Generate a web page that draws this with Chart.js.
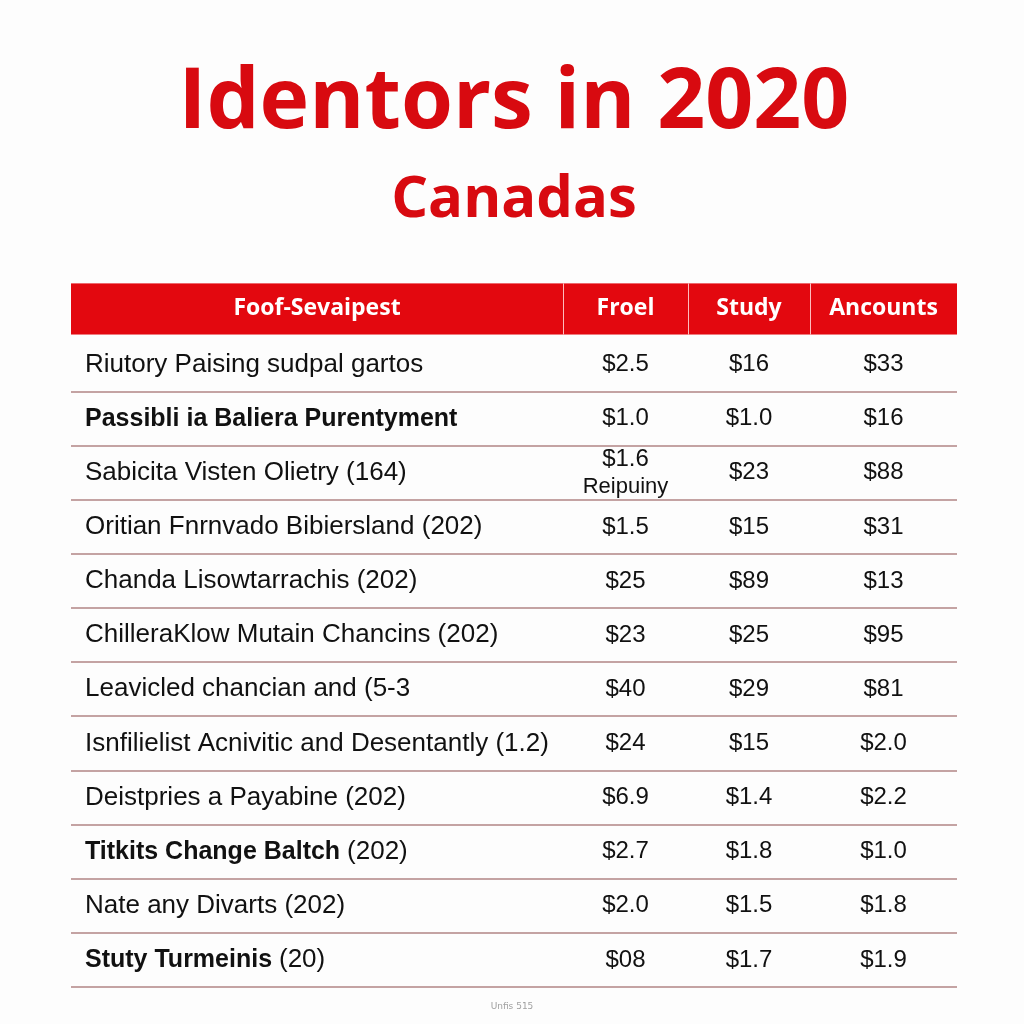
<!DOCTYPE html>
<html>
<head>
<meta charset="utf-8">
<script src="https://cdn.jsdelivr.net/npm/chart.js@4"></script>
<style>
  body { margin: 0; background: #fdfdfd; }
  #wrap { width: 1024px; height: 1024px; }
</style>
</head>
<body>
<div id="wrap"><canvas id="myChart" width="1024" height="1024"></canvas></div>
<script>
/* table data */
var columns = ['Foof-Sevaipest', 'Froel', 'Study', 'Ancounts'];
var rowNames = [
    'Riutory Paising sudpal gartos',
    'Passibli ia Baliera Purentyment',
    'Sabicita Visten Olietry (164)',
    'Oritian Fnrnvado Bibiersland (202)',
    'Chanda Lisowtarrachis (202)',
    'ChilleraKlow Mutain Chancins (202)',
    'Leavicled chancian and (5-3',
    'Isnfilielist Acnivitic and Desentantly (1.2)',
    'Deistpries a Payabine (202)',
    'Titkits Change Baltch (202)',
    'Nate any Divarts (202)',
    'Stuty Turmeinis (20)'
];
var froel = ['$2.5', '$1.0', '$1.6\nReipuiny', '$1.5', '$25', '$23', '$40', '$24', '$6.9', '$2.7', '$2.0', '$08'];
var study = ['$16', '$1.0', '$23', '$15', '$89', '$25', '$29', '$15', '$1.4', '$1.8', '$1.5', '$1.7'];
var ancounts = ['$33', '$16', '$88', '$31', '$13', '$95', '$81', '$2.0', '$2.2', '$1.0', '$1.8', '$1.9'];

// layout (table units along x, 0..886)
var colEdges = [0, 492, 617, 739, 886];
var boldRows = [1, 9, 11];
var red = '#e3080f';
var titleRed = '#d80a10';
var bodyFont = '"Liberation Sans", Arial, sans-serif';

function colCenter(i) { return (colEdges[i] + colEdges[i + 1]) / 2; }

function cellData(values, col) {
    return rowNames.map(function (r, j) {
        return { x: colCenter(col), y: r, text: values[j] };
    });
}

var tablePlugin = {
    id: 'tableCells',
    beforeDraw: function (chart) {
        var c = chart.ctx;
        c.save();
        c.fillStyle = '#fdfdfd';
        c.fillRect(0, 0, chart.width, chart.height);
        c.restore();
    },
    beforeDatasetsDraw: function (chart) {
        var c = chart.ctx, xs = chart.scales.x, ys = chart.scales.y;
        var left = xs.getPixelForValue(0), right = xs.getPixelForValue(886);
        var band = ys.getPixelForValue(1) - ys.getPixelForValue(0);
        var hy = ys.getPixelForValue(0);
        c.save();
        // header band
        c.fillStyle = red;
        c.fillRect(left, hy - band / 2, right - left, band - 3);
        c.strokeStyle = 'rgba(255,210,210,0.9)';
        c.lineWidth = 1;
        for (var i = 1; i < colEdges.length - 1; i++) {
            var px = Math.round(xs.getPixelForValue(colEdges[i])) + 0.5;
            c.beginPath();
            c.moveTo(px, hy - band / 2);
            c.lineTo(px, hy + band / 2 - 3);
            c.stroke();
        }
        c.fillStyle = '#ffffff';
        c.font = 'bold 23px "Open Sans", sans-serif';
        c.textAlign = 'center';
        c.textBaseline = 'middle';
        columns.forEach(function (h, i) {
            c.fillText(h, xs.getPixelForValue(colCenter(i)), hy - 2);
        });
        // row separators
        c.strokeStyle = '#c4a3a3';
        c.lineWidth = 2;
        rowNames.forEach(function (r) {
            var y = Math.round(ys.getPixelForValue(r) + band / 2);
            c.beginPath();
            c.moveTo(left, y);
            c.lineTo(right, y);
            c.stroke();
        });
        // row names (bold rows keep the bracket part regular)
        c.fillStyle = '#111111';
        c.textAlign = 'left';
        rowNames.forEach(function (r, j) {
            var y = ys.getPixelForValue(r);
            if (boldRows.indexOf(j) >= 0) {
                var cut = r.indexOf(' (');
                var head = cut >= 0 ? r.slice(0, cut + 1) : r;
                var tail = cut >= 0 ? r.slice(cut + 1) : '';
                c.font = 'bold 25px ' + bodyFont;
                c.fillText(head, left + 14, y);
                var w = c.measureText(head).width;
                c.font = '26px ' + bodyFont;
                c.fillText(tail, left + 14 + w, y);
            } else {
                c.font = '26px ' + bodyFont;
                c.fillText(r, left + 14, y);
            }
        });
        c.restore();
    },
    afterDatasetsDraw: function (chart) {
        var c = chart.ctx;
        c.save();
        c.fillStyle = '#111111';
        c.textAlign = 'center';
        c.textBaseline = 'middle';
        chart.data.datasets.forEach(function (ds, i) {
            chart.getDatasetMeta(i).data.forEach(function (pt, j) {
                var lines = ds.data[j].text.split('\n');
                var y0 = pt.y - (lines.length - 1) * 13;
                lines.forEach(function (ln, k) {
                    c.font = (k === 0 ? '24px ' : '22px ') + bodyFont;
                    c.fillText(ln, pt.x, y0 + k * 27);
                });
            });
        });
        // small footnote
        c.fillStyle = '#a0a0a0';
        c.font = '9px "DejaVu Sans", sans-serif';
        c.fillText('Unfis 515', chart.width / 2, chart.chartArea.bottom + 20);
        c.restore();
    }
};

var ctx = document.getElementById('myChart').getContext('2d');
var myChart = new Chart(ctx, {
    type: 'scatter',
    data: {
        datasets: [
            { label: columns[1], data: cellData(froel, 1) },
            { label: columns[2], data: cellData(study, 2) },
            { label: columns[3], data: cellData(ancounts, 3) }
        ]
    },
    options: {
        responsive: false,
        animation: false,
        elements: { point: { radius: 0, hoverRadius: 0 } },
        layout: { padding: { top: 20, left: 71, right: 67, bottom: 37 } },
        scales: {
            x: { type: 'linear', min: 0, max: 886, display: false },
            y: {
                type: 'category',
                labels: [columns[0]].concat(rowNames),
                offset: true,
                display: false
            }
        },
        plugins: {
            legend: { display: false },
            tooltip: { enabled: false },
            title: {
                display: true,
                text: 'Identors in 2020',
                color: titleRed,
                font: { family: 'Open Sans, sans-serif', size: 84, weight: 'bold' },
                padding: { top: 34, bottom: 0 }
            },
            subtitle: {
                display: true,
                text: 'Canadas',
                color: titleRed,
                font: { family: 'Open Sans, sans-serif', size: 58, weight: 'bold' },
                padding: { top: 11, bottom: 48 }
            }
        }
    },
    plugins: [tablePlugin]
});
</script>
</body>
</html>
